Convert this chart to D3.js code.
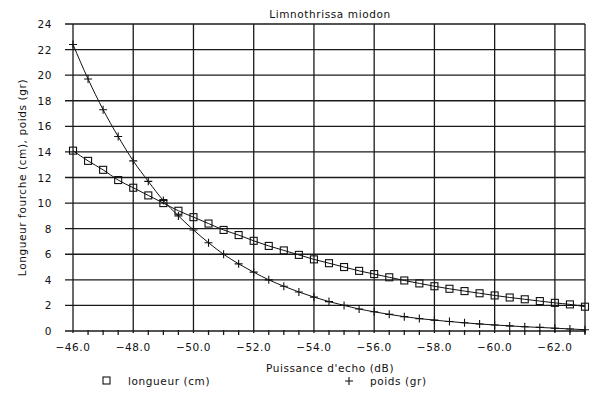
<!DOCTYPE html>
<html>
<head>
<meta charset="utf-8">
<script src="https://cdn.jsdelivr.net/npm/d3@7"></script>
<style>
body { margin: 0; background: #fff; }
svg { font-family: "DejaVu Sans", sans-serif; }
.grid line { stroke: #1a1a1a; stroke-width: 1.3; }
.lab { font-size: 10.5px; fill: #111; letter-spacing: 0.6px; }
</style>
</head>
<body>
<div id="chart"></div>
<script>

// echo level (dB), one point every 0.5 dB
const puissance = [-46, -46.5, -47, -47.5, -48, -48.5, -49, -49.5, -50, -50.5, -51, -51.5, -52, -52.5, -53, -53.5, -54, -54.5, -55, -55.5, -56, -56.5, -57, -57.5, -58, -58.5, -59, -59.5, -60, -60.5, -61, -61.5, -62, -62.5, -63]
const longueur = [14.1, 13.3, 12.6, 11.8, 11.2, 10.6, 10.0, 9.4, 8.9, 8.4, 7.9, 7.5, 7.05, 6.65, 6.3, 5.95, 5.6, 5.3, 5.0, 4.7, 4.45, 4.2, 3.95, 3.72, 3.5, 3.3, 3.12, 2.95, 2.78, 2.62, 2.48, 2.34, 2.2, 2.08, 1.9]
const poids = [22.4, 19.7, 17.3, 15.2, 13.3, 11.7, 10.2, 9.0, 7.9, 6.9, 6.0, 5.25, 4.6, 4.0, 3.5, 3.05, 2.65, 2.3, 2.0, 1.72, 1.5, 1.3, 1.12, 0.97, 0.85, 0.74, 0.64, 0.55, 0.47, 0.4, 0.33, 0.28, 0.22, 0.16, 0.1]

const xTicks = [-46, -48, -50, -52, -54, -56, -58, -60, -62]
const yTicks = [0, 2, 4, 6, 8, 10, 12, 14, 16, 18, 20, 22, 24]

const width = 600, height = 395
const m = { top: 24, right: 15, bottom: 64, left: 73 }

const svg = d3.select('#chart').append('svg').attr('width', width).attr('height', height)

const x = d3.scaleLinear().domain([-46, -63]).range([m.left, width - m.right])
const y = d3.scaleLinear().domain([0, 24]).range([height - m.bottom, m.top])

// grid
const grid = svg.append('g').attr('class', 'grid')
grid.selectAll('.h').data(yTicks).enter().append('line')
    .attr('x1', m.left - 8).attr('x2', x(-63))
    .attr('y1', d => y(d)).attr('y2', d => y(d))
grid.selectAll('.v').data(xTicks.concat([-63])).enter().append('line')
    .attr('x1', d => x(d)).attr('x2', d => x(d))
    .attr('y1', y(24)).attr('y2', y(0) + 2)

// minor ticks on the bottom axis
const minor = d3.range(-46, -63.01, -0.5).filter(d => d % 2 != 0)
grid.selectAll('.mt').data(minor).enter().append('line')
    .attr('x1', d => x(d)).attr('x2', d => x(d))
    .attr('y1', y(0) - 1).attr('y2', y(0) + 4)

// tick labels
svg.selectAll('.yl').data(yTicks).enter().append('text')
    .attr('class', 'lab')
    .attr('x', 52).attr('y', d => y(d) + 4)
    .attr('text-anchor', 'end')
    .text(d => d)

svg.selectAll('.xl').data(xTicks).enter().append('text')
    .attr('class', 'lab')
    .attr('x', d => x(d)).attr('y', y(0) + 20)
    .attr('text-anchor', 'middle')
    .text(d => '\u2212' + Math.abs(d).toFixed(1))

// titles
svg.append('text').attr('class', 'lab')
    .attr('x', 330).attr('y', 18).attr('text-anchor', 'middle')
    .text('Limnothrissa miodon')
svg.append('text').attr('class', 'lab')
    .attr('transform', `translate(26,${y(12)}) rotate(-90)`)
    .attr('text-anchor', 'middle')
    .text('Longueur fourche (cm), poids (gr)')
svg.append('text').attr('class', 'lab')
    .attr('x', 330).attr('y', 372).attr('text-anchor', 'middle')
    .text("Puissance d'echo (dB)")

// series
const lenData = puissance.map((p, i) => ({ p: p, v: longueur[i] }))
const wData = puissance.map((p, i) => ({ p: p, v: poids[i] }))

const line = d3.line().x(d => x(d.p)).y(d => y(d.v)).curve(d3.curveMonotoneX)

svg.append('path').datum(lenData).attr('d', line)
    .attr('fill', 'none').attr('stroke', '#111').attr('stroke-width', 1)
svg.append('path').datum(wData).attr('d', line)
    .attr('fill', 'none').attr('stroke', '#111').attr('stroke-width', 1)

svg.selectAll('.sq').data(lenData).enter().append('rect')
    .attr('x', d => x(d.p) - 3.5).attr('y', d => y(d.v) - 3.5)
    .attr('width', 7).attr('height', 7)
    .attr('fill', 'none').attr('stroke', '#111').attr('stroke-width', 1.1)

svg.selectAll('.pl').data(wData).enter().append('path')
    .attr('d', 'M-4,0H4M0,-4V4')
    .attr('transform', d => `translate(${x(d.p)},${y(d.v)})`)
    .attr('stroke', '#111').attr('stroke-width', 1.1)

// legend
svg.append('rect').attr('x', 103).attr('y', 377).attr('width', 7).attr('height', 7)
    .attr('fill', 'none').attr('stroke', '#111').attr('stroke-width', 1.1)
svg.append('text').attr('class', 'lab').attr('x', 128).attr('y', 385).text('longueur (cm)')
svg.append('path').attr('d', 'M-4,0H4M0,-4V4').attr('transform', 'translate(349,381)')
    .attr('stroke', '#111').attr('stroke-width', 1.1)
svg.append('text').attr('class', 'lab').attr('x', 370).attr('y', 385).text('poids (gr)')

</script>
</body>
</html>
